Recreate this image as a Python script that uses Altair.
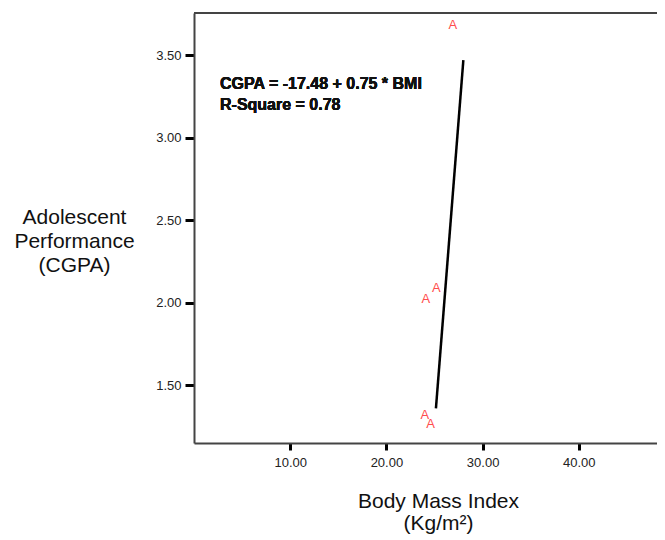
import altair as alt
import pandas as pd

# Observed cases (BMI, CGPA) plotted as "A" markers
bmi = [26.9, 25.2, 24.1, 24.0, 24.6]
cgpa = [3.68, 2.09, 2.02, 1.32, 1.265]

# Fitted regression line end points
fit_bmi = [25.15, 28.0]
fit_cgpa = [1.36, 3.47]

x_ticks = [10, 20, 30, 40]
y_ticks = [1.5, 2.0, 2.5, 3.0, 3.5]
equation = ["CGPA = -17.48 + 0.75 * BMI", "R-Square = 0.78"]
x_title = ["Body Mass Index", "(Kg/m²)"]
y_title = ["Adolescent", "Performance", "(CGPA)"]

W, H = 463, 430
FONT = "Liberation Sans"

pts = pd.DataFrame({"bmi": bmi, "cgpa": cgpa})
fit = pd.DataFrame({"bmi": fit_bmi, "cgpa": fit_cgpa})

xs = alt.Scale(domain=[0, 48.13], nice=False, zero=False)
ys = alt.Scale(domain=[1.15, 3.755], nice=False, zero=False)

x_axis = alt.Axis(
    values=x_ticks, format=".2f", grid=False,
    domainColor="#444", domainWidth=2,
    tickColor="black", tickWidth=3, tickSize=7,
    labelFont=FONT, labelFontSize=13, labelColor="#222", labelPadding=6,
    title=x_title, titleFont=FONT, titleFontSize=21, titleFontWeight="normal",
    titleColor="#111", titleLineHeight=22.5, titleAngle=0, titleAlign="center",
    titleBaseline="alphabetic", titleX=244, titleY=64,
)
y_axis = alt.Axis(
    values=y_ticks, format=".2f", grid=False,
    domainColor="#444", domainWidth=2,
    tickColor="black", tickWidth=3, tickSize=9,
    labelFont=FONT, labelFontSize=13, labelColor="#222", labelPadding=4,
    title=y_title, titleFont=FONT, titleFontSize=21, titleFontWeight="normal",
    titleColor="#111", titleLineHeight=24, titleAngle=0, titleAlign="center",
    titleBaseline="alphabetic", titleX=-120, titleY=210,
)

markers = alt.Chart(pts).mark_text(
    text="A", font=FONT, fontSize=13, color="#ff4d4d", baseline="middle", align="center"
).encode(
    x=alt.X("bmi:Q", scale=xs, axis=x_axis),
    y=alt.Y("cgpa:Q", scale=ys, axis=y_axis),
)

line = alt.Chart(fit).mark_line(color="black", strokeWidth=2.5).encode(
    x=alt.X("bmi:Q", scale=xs),
    y=alt.Y("cgpa:Q", scale=ys),
)

label = alt.Chart(pts).mark_text(
    font=FONT, fontSize=16, fontWeight="bold", color="#111",
    align="left", baseline="alphabetic", lineHeight=21,
).encode(
    x=alt.value(26), y=alt.value(76), text=alt.value(equation)
)

top_border = alt.Chart(pts).mark_rule(color="#444", strokeWidth=2).encode(
    x=alt.value(0), x2=alt.value(W), y=alt.value(0)
)

chart = alt.layer(top_border, line, markers, label).properties(
    width=W, height=H,
    autosize=alt.AutoSizeParams(type="none"),
    padding={"left": 186, "top": 5, "right": 0, "bottom": 92},
).configure_view(stroke=None)

chart.save("out.html", embed_options={"renderer": "svg", "actions": False})
